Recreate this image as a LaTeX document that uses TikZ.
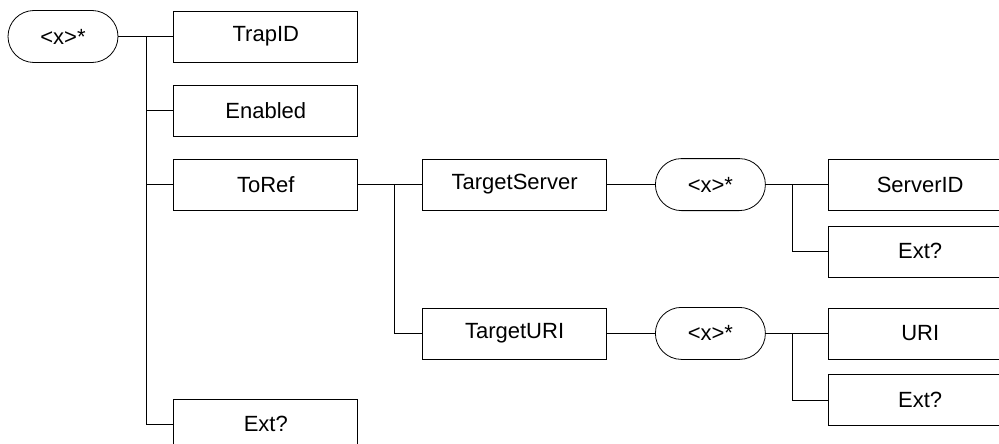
\documentclass[tikz,border=0pt]{standalone}
\usepackage{fontspec}
\setmainfont{Liberation Sans}
\usetikzlibrary{positioning}

\begin{document}
\begin{tikzpicture}[x=1pt, y=1pt, line width=0.8pt, font=\fontsize{22}{26}\selectfont,
    elem/.style={draw, rectangle, minimum width=184pt, minimum height=51pt, inner sep=0pt},
    rep/.style={draw, rectangle, rounded corners=26pt, minimum width=110pt, minimum height=52pt, inner sep=0pt}]
      \useasboundingbox (0,0) rectangle (999,-444);

      \node[rep] (r) at (63,-36.5) {<x>*};
      \node[elem, right=55pt of r] (trap) {TrapID};
      \node[elem, below=22.5pt of trap] (en) {Enabled};
      \node[elem, below=22pt of en] (toref) {ToRef};
      \node[elem, below=188pt of toref] (ext) {Ext?};

      \node[elem, right=64pt of toref] (ts) {TargetServer};
      \node[rep, right=48pt of ts] (r2) {<x>*};
      \node[elem, right=62pt of r2] (sid) {ServerID};
      \node[elem, below=15pt of sid] (ext2) {Ext?};

      \node[elem, below=97pt of ts] (turi) {TargetURI};
      \node[rep, right=48pt of turi] (r3) {<x>*};
      \node[elem, right=62pt of r3] (uri) {URI};
      \node[elem, below=15pt of uri] (ext3) {Ext?};

      \coordinate[right=28pt of r.east] (j1);
      \coordinate[right=36pt of toref.east] (j2);
      \coordinate[right=27pt of r2.east] (j3);
      \coordinate[right=27pt of r3.east] (j4);

      \draw (r) -- (trap);
      \draw (j1) |- (en);
      \draw (j1) |- (toref);
      \draw (j1) |- (ext);
      \draw (toref) -- (ts);
      \draw (j2) |- (turi);
      \draw (ts) -- (r2);
      \draw (r2) -- (sid);
      \draw (j3) |- (ext2);
      \draw (turi) -- (r3);
      \draw (r3) -- (uri);
      \draw (j4) |- (ext3);
    \end{tikzpicture}
\end{document}
